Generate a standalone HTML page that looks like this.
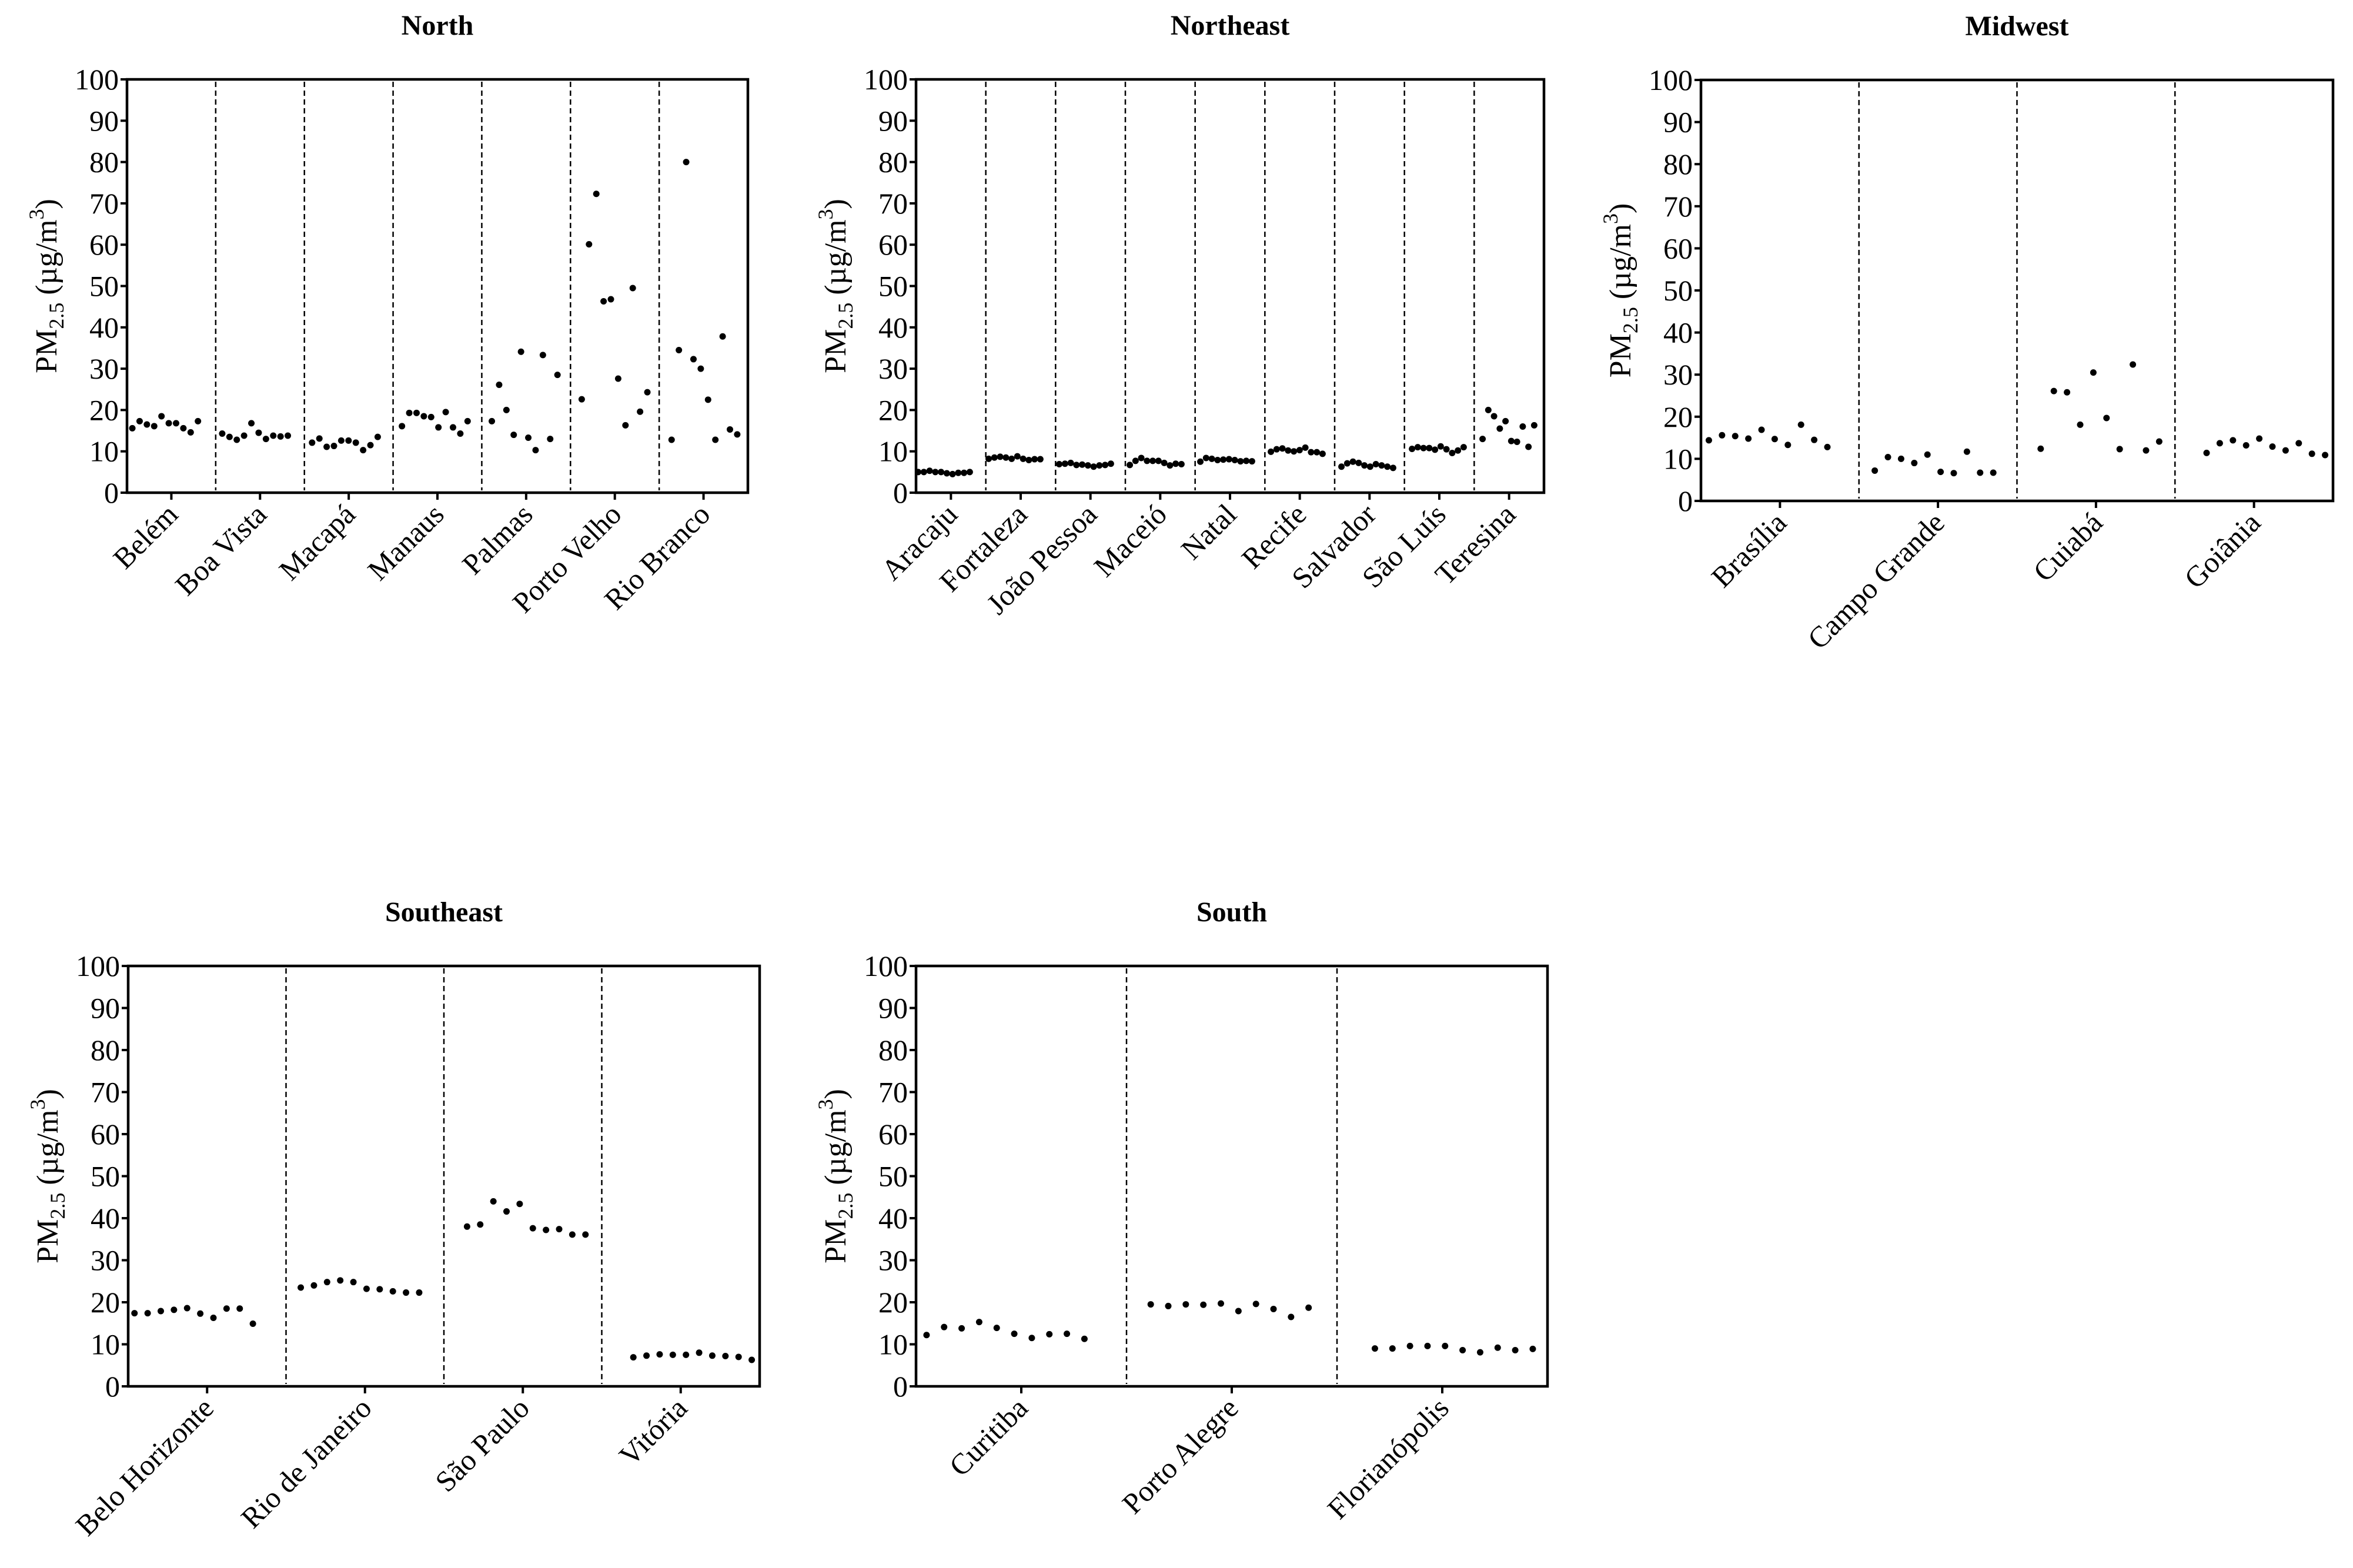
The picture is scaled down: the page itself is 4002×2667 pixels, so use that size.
<!DOCTYPE html>
<html><head><meta charset="utf-8"><style>
html,body{margin:0;padding:0;background:#fff;}
svg, svg text{font-family:"Liberation Serif","DejaVu Serif",serif;}
</style></head><body>
<svg id="chart" width="4002" height="2662" viewBox="0 0 4002 2662" xmlns="http://www.w3.org/2000/svg" font-family="Liberation Serif, DejaVu Serif, serif">
<rect width="4002" height="2662" fill="#fff"/>
</svg>
<script>
// ---- data ----
const yTicks = [0,10,20,30,40,50,60,70,80,90,100];
const northCities = ["Belém","Boa Vista","Macapá","Manaus","Palmas","Porto Velho","Rio Branco"];
const northValues = [
 [15.6,17.3,16.5,16.1,18.5,16.8,16.8,15.6,14.6,17.3],
 [14.3,13.5,12.8,13.8,16.8,14.5,13.0,13.8,13.6,13.8],
 [12.1,13.1,11.1,11.3,12.6,12.6,12.1,10.3,11.5,13.5],
 [16.1,19.3,19.3,18.5,18.3,15.8,19.5,15.8,14.3,17.3],
 [17.3,26.1,20.0,14.0,34.1,13.3,10.3,33.3,13.0,28.5],
 [22.6,60.1,72.3,46.3,46.8,27.6,16.3,49.5,19.6,24.3],
 [12.8,34.5,80.0,32.3,30.0,22.5,12.8,37.8,15.3,14.1]
];
const northeastCities = ["Aracaju","Fortaleza","João Pessoa","Maceió","Natal","Recife","Salvador","São Luís","Teresina"];
const northeastValues = [
 [5.0,5.0,5.3,5.0,5.0,4.7,4.5,4.8,4.8,5.0],
 [8.2,8.5,8.7,8.5,8.2,8.8,8.2,7.9,8.1,8.1],
 [6.9,7.0,7.2,6.7,6.8,6.6,6.3,6.6,6.7,7.0],
 [6.7,7.7,8.4,7.7,7.7,7.7,7.2,6.6,7.0,6.9],
 [7.5,8.4,8.2,7.9,8.0,8.1,7.9,7.6,7.7,7.6],
 [9.9,10.5,10.7,10.2,10.0,10.3,10.9,9.8,9.8,9.4],
 [6.3,7.1,7.5,7.2,6.6,6.3,6.9,6.6,6.3,6.0],
 [10.6,11.0,10.8,10.8,10.4,11.2,10.5,9.6,10.2,11.0],
 [13.0,20.0,18.5,15.5,17.3,12.5,12.3,16.0,11.1,16.3]
];
const midwestCities = ["Brasília","Campo Grande","Cuiabá","Goiânia"];
const midwestValues = [
 [14.4,15.6,15.4,14.8,16.9,14.7,13.3,18.1,14.5,12.8],
 [7.2,10.4,10.0,9.0,11.0,6.9,6.6,11.7,6.7,6.7],
 [12.4,26.1,25.8,18.1,30.5,19.7,12.3,32.4,12.0,14.1],
 [11.4,13.7,14.4,13.2,14.8,12.9,12.0,13.7,11.2,10.9]
];
const southeastCities = ["Belo Horizonte","Rio de Janeiro","São Paulo","Vitória"];
const southeastValues = [
 [17.4,17.4,17.9,18.2,18.6,17.3,16.3,18.5,18.5,14.9],
 [23.5,24.0,24.8,25.2,24.8,23.2,23.1,22.6,22.3,22.3],
 [38.0,38.5,44.0,41.6,43.4,37.6,37.2,37.4,36.1,36.1],
 [6.9,7.3,7.6,7.5,7.5,8.0,7.3,7.2,7.0,6.3]
];
const southCities = ["Curitiba","Porto Alegre","Florianópolis"];
const southValues = [
 [12.2,14.1,13.8,15.3,13.9,12.5,11.5,12.4,12.5,11.3],
 [19.5,19.1,19.5,19.4,19.7,17.9,19.6,18.4,16.5,18.7],
 [9.0,9.0,9.6,9.6,9.6,8.6,8.1,9.2,8.6,8.9]
];
const panelTitles = ["North","Northeast","Midwest","Southeast","South"];

// ---- layout ----
const NS = "http://www.w3.org/2000/svg";
const FONT = '"Liberation Serif", "DejaVu Serif", serif';
const svg = document.getElementById("chart");
function mk(tag, attrs, parent){
  const e = document.createElementNS(NS, tag);
  for (const k in attrs) e.setAttribute(k, attrs[k]);
  if (tag === "text") e.style.fontFamily = FONT;
  (parent||svg).appendChild(e);
  return e;
}
const layouts = [
 {x0:216,x1:1272,y0:135,y1:838,s0:0.06,s1:0.14,span:0.74},
 {x0:1558,x1:2626,y0:135,y1:838,s0:0.03,s1:0.12,span:0.74},
 {x0:2893,x1:3968,y0:136,y1:852,s0:0.05,s1:0.20,span:0.75},
 {x0:218,x1:1292,y0:1643,y1:2358,s0:0.04,s1:0.20,span:0.75},
 {x0:1558,x1:2632,y0:1643,y1:2358,s0:0.05,s1:0.18,span:0.75}
];
const allCities = [northCities, northeastCities, midwestCities, southeastCities, southCities];
const allValues = [northValues, northeastValues, midwestValues, southeastValues, southValues];

layouts.forEach((L, p) => {
  const g = mk("g", {});
  
  
  const cities = allCities[p], vals = allValues[p];
  const n = cities.length, w = (L.x1 - L.x0) / n;
  const yScale = v => L.y1 - (v / 100) * (L.y1 - L.y0);
  const cx = c => L.x0 + w * c;

  const t = mk("text", {x:(L.x0+L.x1)/2, y:L.y0-76, "text-anchor":"middle", "font-size":"48", "font-weight":"bold"}, g);
  t.textContent = panelTitles[p];
  
  

  const yt = mk("text", {transform:`translate(${L.x0-120},${(L.y0+L.y1)/2}) rotate(-90)`, "text-anchor":"middle", "font-size":"52"}, g);
  
  
  yt.innerHTML = 'PM<tspan font-size="36" dy="12">2.5</tspan><tspan dy="-12"> (µg/m</tspan><tspan font-size="36" dy="-22">3</tspan><tspan dy="22">)</tspan>';

  yTicks.forEach(v => {
    const y = yScale(v);
    const tk = mk("line", {x1:L.x0-11, x2:L.x0, y1:y, y2:y, stroke:"#000","stroke-width":4}, g);
    
    
    const lb = mk("text", {x:L.x0-14, y:y+17, "text-anchor":"end", "font-size":"50"}, g);
    lb.textContent = v;
    
    
  });

  cities.forEach((name, c) => {
    if (c > 0) {
      const d = mk("line", {x1:cx(c), x2:cx(c), y1:L.y0+4, y2:L.y1-4, stroke:"#000","stroke-width":2.5,"stroke-dasharray":"9 6"}, g);
      
      
    }
    const mx = cx(c) + w/2;
    const tk = mk("line", {x1:mx, x2:mx, y1:L.y1, y2:L.y1+12, stroke:"#000","stroke-width":4}, g);
    
    
    const lb = mk("text", {transform:`translate(${mx+14},${L.y1+40}) rotate(-45)`, "text-anchor":"end", "font-size":"50"}, g);
    lb.textContent = name;
    
    

    const sf = L.s0 + (n > 1 ? (L.s1 - L.s0) * c / (n - 1) : 0);
    const pts = vals[c];
    pts.forEach((v, i) => {
      const x = cx(c) + w * (sf + L.span * i / (pts.length - 1));
      const dot = mk("circle", {cx:x, cy:yScale(v), r:5.5, fill:"#000"}, g);
      
      
    });
  });

  const frame = mk("rect", {x:L.x0, y:L.y0, width:L.x1-L.x0, height:L.y1-L.y0, fill:"none", stroke:"#000", "stroke-width":4.5}, g);
  
  
});
</script>
</body></html>
